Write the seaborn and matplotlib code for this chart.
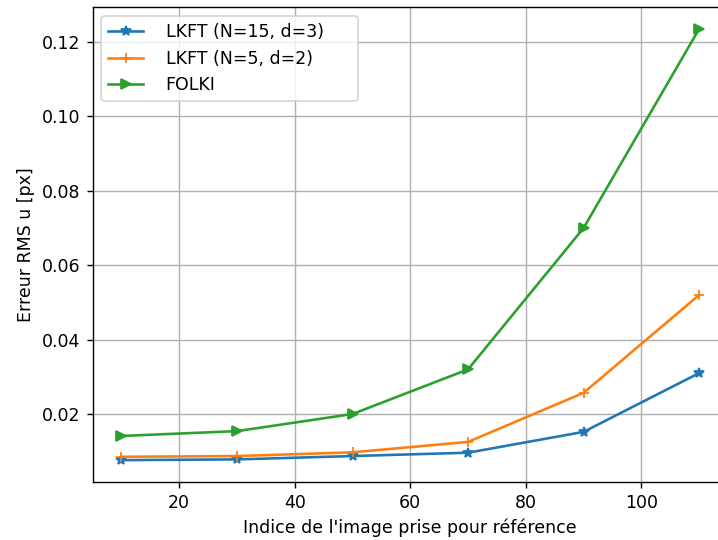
import matplotlib
matplotlib.use("Agg")
import matplotlib.pyplot as plt
import seaborn as sns

x_index = [10, 30, 50, 70, 90, 110]
lkft_15 = [0.0076, 0.0078, 0.0087, 0.0096, 0.0152, 0.0310]
lkft_5 = [0.0085, 0.0087, 0.0097, 0.0125, 0.0257, 0.0520]
folki = [0.0141, 0.0154, 0.0200, 0.0320, 0.0700, 0.1235]

labels = ["LKFT (N=15, d=3)     ", "LKFT (N=5, d=2)", "FOLKI"]
colors = ["#1f77b4", "#ff7f0e", "#2ca02c"]
markers = ["*", "+", ">"]
series = [lkft_15, lkft_5, folki]

plt.rcParams['font.family'] = ['DejaVu Sans']
fig = plt.figure(figsize=(718 / 125, 540 / 125), dpi=125)
ax = fig.add_axes([92.6 / 718, 1 - 481.7 / 540, 635.4 / 718, (481.7 - 7.4) / 540])

for vals, lab, col, mk in zip(series, labels, colors, markers):
    sns.lineplot(x=x_index, y=vals, ax=ax, color=col, marker=mk, label=lab,
                 linewidth=1.5, markersize=6, markeredgecolor=col,
                 markerfacecolor=col, markeredgewidth=1.0)

ax.grid(True, color="#b0b0b0", linewidth=0.8)
ax.set_axisbelow(True)
ax.set_xticks([20, 40, 60, 80, 100])
ax.set_yticks([0.02, 0.04, 0.06, 0.08, 0.10, 0.12])
ax.tick_params(labelsize=10)
ax.set_xlabel("Indice de l'image prise pour référence", fontsize=10)
ax.set_ylabel("Erreur RMS u [px]", fontsize=10)
ax.legend(loc="upper left", fontsize=10, handletextpad=1.3)

fig.savefig("out.png", dpi=125)
